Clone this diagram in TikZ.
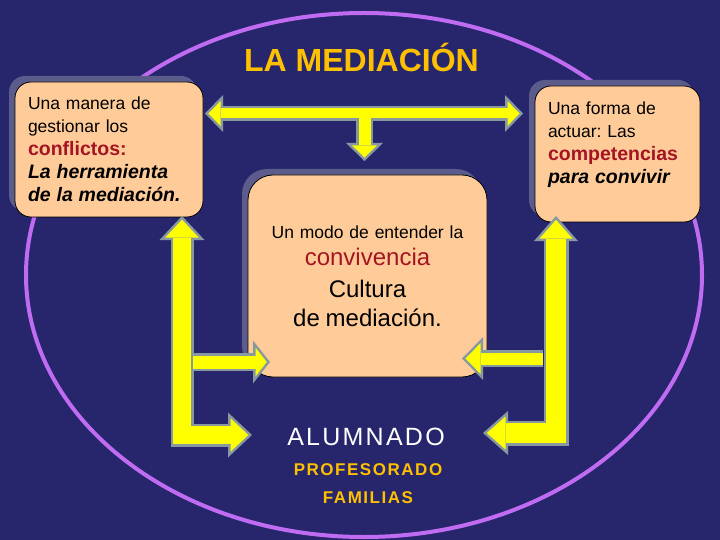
\documentclass[tikz,border=0pt]{standalone}
\usepackage{fontspec}
\setmainfont{Liberation Sans}
\newfontfamily\espaciada[LetterSpace=9]{Liberation Sans}
\usetikzlibrary{arrows.meta, shadows, positioning}
\frenchspacing

\definecolor{fondo}{RGB}{39,38,108}
\definecolor{elipse}{RGB}{192,108,242}
\definecolor{melocoton}{RGB}{255,204,153}
\definecolor{sombra}{RGB}{92,92,140}
\definecolor{rojo}{RGB}{165,20,35}
\definecolor{dorado}{RGB}{255,192,0}
\definecolor{amarillo}{RGB}{255,255,0}
\definecolor{contorno}{RGB}{135,152,160}

\newcommand\textocaja{\fontsize{17.5}{23}\selectfont}
\newcommand\destacado{\fontsize{19.5}{23}\selectfont\bfseries\color{rojo}}
\newcommand\cursiva{\fontsize{19.5}{23}\selectfont\bfseries\itshape}
\newcommand\grande{\fontsize{24}{29}\selectfont}

\tikzset{
  caja/.style={draw=black, line width=0.8pt, fill=melocoton, rounded corners=#1,
    drop shadow={shadow xshift=-6pt, shadow yshift=6pt, fill=sombra, opacity=1},
    inner ysep=0pt, inner xsep=13pt},
  % contorno gris de las flechas: ancho, ancho de punta, largo de punta
  borde/.style n args={3}{draw=contorno, line width=#1pt, line join=miter,
    >={Triangle[length=#3pt, width=#2pt, line width=0pt]}},
  % relleno amarillo, 2.5 unidades hacia dentro
  relleno/.code n args={3}{%
    \pgfmathsetmacro\fd{2.5/sin(atan((#2/2)/#3))}%
    \pgfmathsetmacro\fl{#3-\fd-2.5}%
    \pgfmathsetmacro\fw{#2*\fl/#3}%
    \pgfmathsetmacro\fs{#1-5}%
    \edef\fpasos{\noexpand\pgfkeysalso{draw=amarillo, line width=\fs pt, line join=miter,
      >={Triangle[length=\fl pt, width=\fw pt, line width=0pt]}, shorten >=\fd pt}}%
    \fpasos},
  ambos/.style={shorten <=\fd pt},
}

\begin{document}
\begin{tikzpicture}[x=1pt, y=-1pt]
  \useasboundingbox (0,0) rectangle (720,540);
  \fill[fondo] (0,0) rectangle (720,540);
  \draw[elipse, line width=4pt] (364,275) ellipse [x radius=338pt, y radius=262pt];

  \node[anchor=base, text=dorado, font=\bfseries\fontsize{32}{38}\selectfont] (titulo) at (361.5,72) {LA MEDIACIÓN};

  % cajas
  \node[caja=16pt, text width=162pt, minimum height=135pt, align=left, font=\textocaja] (manera) at (109,149.5)
    {Una manera de\\ gestionar los\\ {\destacado conflictos:}\\ {\cursiva La herramienta}\\ {\cursiva de la mediación.}};
  \node[caja=16pt, text width=139pt, minimum height=136pt, align=left, font=\textocaja] (forma) at (617.5,154)
    {Una forma de\\ actuar: Las\\ {\destacado competencias}\\ {\cursiva para convivir}\\ \mbox{}};
  \node[caja=25pt, text width=213pt, minimum height=202pt, align=center, font=\fontsize{17.5}{29}\selectfont] (modo) at (367.5,276)
    {Un modo de entender la\\[-2pt] {\grande\color{rojo} convivencia}\\[3pt] {\grande Cultura}\\ {\grande de mediación.}};

  % puntos de las flechas
  \coordinate (sup1) at (205,113.5);
  \coordinate (sup2) at (523,113.5);
  \coordinate (sup3) at (364.5,113.5);
  \coordinate (sup4) at (364.5,161);
  \coordinate (izq1) at (182,216);
  \coordinate (izq2) at (182,435);
  \coordinate (izq3) at (252,435);
  \coordinate (izq4) at (193,362);
  \coordinate (izq5) at (270,362);
  \coordinate (der1) at (556,216);
  \coordinate (der2) at (556,433);
  \coordinate (der3) at (483,433);
  \coordinate (der4) at (543,358.5);
  \coordinate (der5) at (462,358.5);

  % flecha superior
  \draw[borde={15}{37}{18}, <->] (sup1) -- (sup2);
  \draw[borde={17}{37}{18}, ->] (sup3) -- (sup4);
  \draw[relleno={15}{37}{18}, ambos, <->] (sup1) -- (sup2);
  \draw[relleno={17}{37}{18}, ->] (sup3) -- (sup4);

  % flechas izquierda
  \draw[borde={23}{45}{24}, <->] (izq1) -- (izq2) -- (izq3);
  \draw[relleno={23}{45}{24}, ambos, <->] (izq1) -- (izq2) -- (izq3);
  \draw[borde={18}{43}{17}, ->] (izq4) -- (izq5);
  \draw[relleno={18}{43}{17}, ->] (izq4) -- (izq5);

  % flechas derecha
  \draw[borde={25}{44}{25}, <->] (der1) -- (der2) -- (der3);
  \draw[relleno={25}{44}{25}, ambos, <->] (der1) -- (der2) -- (der3);
  \draw[borde={17}{43}{21}, ->] (der4) -- (der5);
  \draw[relleno={17}{43}{21}, ->] (der4) -- (der5);

  % colectivos
  \node[anchor=base, text=white, font=\espaciada\fontsize{25}{30}\selectfont] (alumnado) at (366,445) {ALUMNADO};
  \node[anchor=base, text=dorado, font=\espaciada\bfseries\fontsize{17}{20}\selectfont] (profesorado) at (368,475) {PROFESORADO};
  \node[anchor=base, text=dorado, font=\espaciada\bfseries\fontsize{17}{20}\selectfont] (familias) at (368,503) {FAMILIAS};
\end{tikzpicture}
\end{document}
